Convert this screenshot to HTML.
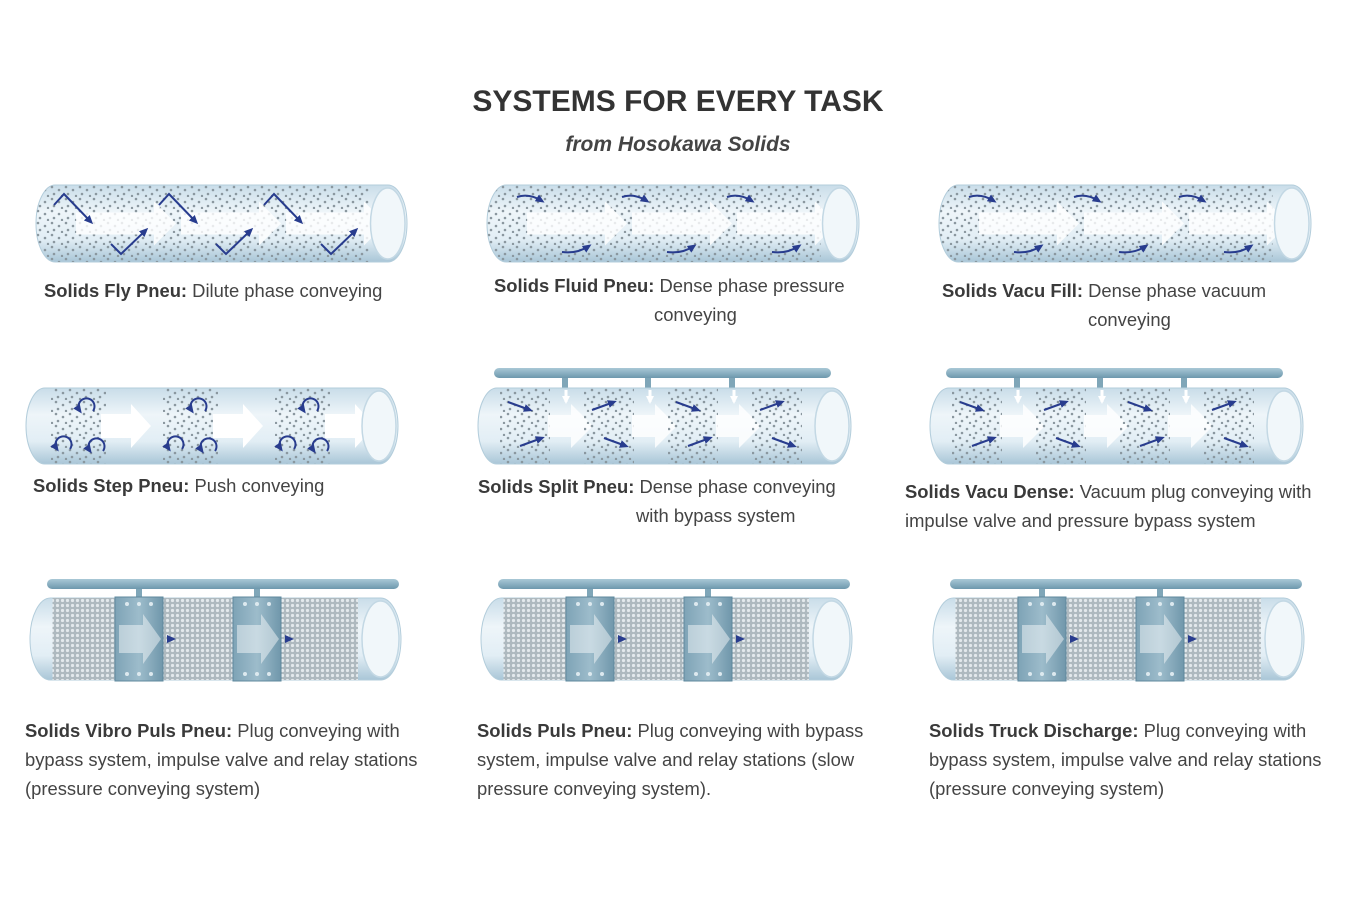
<!DOCTYPE html>
<html><head><meta charset="utf-8">
<style>
body{margin:0;width:1350px;height:900px;background:#fff;position:relative;overflow:hidden;font-family:"Liberation Sans",sans-serif;color:#444}
.t{position:absolute;font-size:18.4px;line-height:29px;white-space:nowrap}
.t b{color:#3a3a3a}
#title{position:absolute;left:0;width:1356px;text-align:center;top:85px;font-size:30px;font-weight:bold;color:#333}
#sub{position:absolute;left:0;width:1356px;text-align:center;top:133px;font-size:21px;font-weight:bold;font-style:italic;color:#444}
svg{position:absolute;left:0;top:0}
</style></head><body>
<svg id="s" width="1350" height="900" viewBox="0 0 1350 900">
<defs>
<linearGradient id="g" x1="0" y1="0" x2="0" y2="1">
<stop offset="0" stop-color="#c9dde9"/><stop offset="0.35" stop-color="#eef5f9"/><stop offset="0.7" stop-color="#e2eef5"/><stop offset="1" stop-color="#a9c6d7"/></linearGradient>
<linearGradient id="bar" x1="0" y1="0" x2="0" y2="1"><stop offset="0" stop-color="#a9c8d6"/><stop offset="1" stop-color="#6d98ad"/></linearGradient>
<linearGradient id="clamp" x1="0" y1="0" x2="1" y2="0"><stop offset="0" stop-color="#7ea3b6"/><stop offset="0.5" stop-color="#9dbccb"/><stop offset="1" stop-color="#7097ab"/></linearGradient>
<pattern id="dots" width="14" height="12" patternUnits="userSpaceOnUse"><circle cx="2" cy="2" r="1.3" fill="#8a979f"/><circle cx="9" cy="5" r="1.3" fill="#8a979f"/><circle cx="4" cy="9" r="1.3" fill="#8a979f"/><circle cx="12" cy="11" r="1.2" fill="#8a979f"/></pattern>
<pattern id="mesh" width="5" height="5" patternUnits="userSpaceOnUse"><rect width="5" height="5" fill="#aeb9bf"/><circle cx="2.5" cy="2.5" r="1.6" fill="#e3e9ec"/></pattern>
<marker id="ah" markerUnits="userSpaceOnUse" markerWidth="9" markerHeight="8" refX="6" refY="4" orient="auto"><path d="M0,0 L9,4 L0,8z" fill="#283c8e"/></marker>
<marker id="wh" markerUnits="userSpaceOnUse" markerWidth="10" markerHeight="8" refX="6" refY="4" orient="auto"><path d="M0,0 L8,4 L0,8z" fill="#fff"/></marker>
</defs>
</svg>
<div id="title">SYSTEMS FOR EVERY TASK</div>
<div id="sub">from Hosokawa Solids</div>

<div class="t" style="left:44px;top:276px"><b>Solids Fly Pneu:</b> Dilute phase conveying</div>
<div class="t" style="left:494px;top:271px"><b>Solids Fluid Pneu:</b> Dense phase pressure<br><span style="padding-left:160px">conveying</span></div>
<div class="t" style="left:942px;top:276px"><b>Solids Vacu Fill:</b> Dense phase vacuum<br><span style="padding-left:146px">conveying</span></div>
<div class="t" style="left:33px;top:471px"><b>Solids Step Pneu:</b> Push conveying</div>
<div class="t" style="left:478px;top:472px"><b>Solids Split Pneu:</b> Dense phase conveying<br><span style="padding-left:158px">with bypass system</span></div>
<div class="t" style="left:905px;top:477px"><b>Solids Vacu Dense:</b> Vacuum plug conveying with<br>impulse valve and pressure bypass system</div>
<div class="t" style="left:25px;top:716px"><b>Solids Vibro Puls Pneu:</b> Plug conveying with<br>bypass system, impulse valve and relay stations<br>(pressure conveying system)</div>
<div class="t" style="left:477px;top:716px"><b>Solids Puls Pneu:</b> Plug conveying with bypass<br>system, impulse valve and relay stations (slow<br>pressure conveying system).</div>
<div class="t" style="left:929px;top:716px"><b>Solids Truck Discharge:</b> Plug conveying with<br>bypass system, impulse valve and relay stations<br>(pressure conveying system)</div>

<script>
var s=document.getElementById('s'),NS='http://www.w3.org/2000/svg';
function el(t,a,p){var e=document.createElementNS(NS,t);for(var k in a)e.setAttribute(k,a[k]);(p||s).appendChild(e);return e;}
function pipe(x,y,w,h,type){
 var g=el('g',{transform:'translate('+x+','+y+')'});
 var r=h*0.25,hh=h/2;
 var d='M'+r+',0 L'+(w-r)+',0 A'+r+','+hh+' 0 0 1 '+(w-r)+','+h+' L'+r+','+h+' A'+r+','+hh+' 0 0 1 '+r+',0Z';
 el('path',{d:d,fill:'url(#g)',stroke:'#b3cddb','stroke-width':1},g);
 var cp=el('clipPath',{id:'c'+x+'_'+y},g);el('path',{d:d},cp);
 var inner=el('g',{'clip-path':'url(#c'+x+'_'+y+')'},g);
 function arrowW(ax,len){
  el('path',{d:'M'+ax+','+(hh-11)+' L'+(ax+len-22)+','+(hh-11)+' L'+(ax+len-22)+','+(hh-22)+' L'+(ax+len)+','+hh+' L'+(ax+len-22)+','+(hh+22)+' L'+(ax+len-22)+','+(hh+11)+' L'+ax+','+(hh+11)+'Z',fill:'#fff',opacity:0.8},inner);}
 function ba(x1,y1,x2,y2){el('path',{d:'M'+x1+','+y1+' L'+x2+','+y2,stroke:'#283c8e','stroke-width':2,fill:'none','marker-end':'url(#ah)'},inner);}
 if(type=='fly'||type=='fluid'){
  el('rect',{x:0,y:0,width:w-r*2,height:h,fill:'url(#dots)'},inner);
  for(var i=0;i<3;i++)arrowW(40+i*105,100);
  for(var i=0;i<3;i++){var ax=30+i*105;
   if(type=='fly'){el('path',{d:'M'+(ax-12)+',20 L'+(ax-2)+',9 L'+(ax+25)+',37',stroke:'#283c8e','stroke-width':2,fill:'none','marker-end':'url(#ah)'},inner);
    el('path',{d:'M'+(ax+45)+','+(h-18)+' L'+(ax+55)+','+(h-8)+' L'+(ax+80)+','+(h-32),stroke:'#283c8e','stroke-width':2,fill:'none','marker-end':'url(#ah)'},inner);}
   else{el('path',{d:'M'+(ax)+',12 Q'+(ax+12)+',8 '+(ax+25)+',16',stroke:'#283c8e','stroke-width':2,fill:'none','marker-end':'url(#ah)'},inner);
    el('path',{d:'M'+(ax+45)+','+(h-10)+' Q'+(ax+60)+','+(h-8)+' '+(ax+72)+','+(h-16),stroke:'#283c8e','stroke-width':2,fill:'none','marker-end':'url(#ah)'},inner);}
  }
 }
 if(type=='step'){
  for(var i=0;i<3;i++){var cx=25+i*112;el('rect',{x:cx,y:0,width:55,height:h,fill:'url(#dots)'},inner);
   el('path',{d:'M'+(cx+50)+','+(hh-12)+' L'+(cx+80)+','+(hh-12)+' L'+(cx+80)+','+(hh-22)+' L'+(cx+100)+','+hh+' L'+(cx+80)+','+(hh+22)+' L'+(cx+80)+','+(hh+12)+' L'+(cx+50)+','+(hh+12)+'Z',fill:'#fff'},inner);
   [[cx+35,18],[cx+12,h-20],[cx+45,h-18]].forEach(function(p){el('path',{d:'M'+(p[0]+7)+','+(p[1]+5)+' A8,8 0 1 0 '+(p[0]-6)+','+(p[1]+5),stroke:'#283c8e','stroke-width':2,fill:'none','marker-end':'url(#ah)'},inner);});}
 }
 if(type=='split'){
  for(var i=0;i<4;i++){var cx=22+i*84;el('rect',{x:cx,y:0,width:50,height:h,fill:'url(#dots)'},inner);
   if(i<3)arrowW(cx+48,45);
   if(i%2==0){ba(cx+8,14,cx+30,22);ba(cx+20,h-18,cx+42,h-26);}else{ba(cx+8,22,cx+30,14);ba(cx+20,h-26,cx+42,h-18);}}
  for(var i=0;i<3;i++){var bx=88+i*84;el('path',{d:'M'+bx+',2 L'+bx+',14',stroke:'#fff','stroke-width':3,'marker-end':'url(#wh)'},inner);}
 }
 if(type=='plug'){
  el('rect',{x:r+2,y:0,width:w-r*3-4,height:h,fill:'url(#mesh)'},inner);
 }
 el('ellipse',{cx:w-r,cy:hh,rx:r-2,ry:hh-3,fill:'#f1f7fa',stroke:'#c3d8e4','stroke-width':1.5},g);
 return g;
}
function topbar(x,y,w,drops,dropY){
 for(var i=0;i<drops.length;i++)el('rect',{x:drops[i]-3,y:y+8,width:6,height:dropY-y-6,fill:'#7fa6b8'});
 el('rect',{x:x,y:y,width:w,height:10,rx:5,fill:'url(#bar)'});
}
pipe(36,185,371,77,'fly');
pipe(487,185,372,77,'fluid');
pipe(939,185,372,77,'fluid');
pipe(26,388,372,76,'step');
topbar(494,368,337,[565,648,732],390);pipe(478,388,373,76,'split');
topbar(946,368,337,[1017,1100,1184],390);pipe(930,388,373,76,'split');
function plugRow(x){
 topbar(x+17,579,352,[x+109,x+227],600);
 pipe(x,598,371,82,'plug');
 [85,203].forEach(function(cx){
  el('rect',{x:x+cx,y:597,width:48,height:84,fill:'url(#clamp)',stroke:'#5f889d'});
  el('path',{d:'M'+(x+cx+4)+',625 L'+(x+cx+28)+',625 L'+(x+cx+28)+',614 L'+(x+cx+46)+',639 L'+(x+cx+28)+',664 L'+(x+cx+28)+',653 L'+(x+cx+4)+',653Z',fill:'#fff',opacity:0.45});
  for(var k=0;k<3;k++){el('circle',{cx:x+cx+12+k*12,cy:604,r:2,fill:'#dde9ef'});el('circle',{cx:x+cx+12+k*12,cy:674,r:2,fill:'#dde9ef'});}
  el('path',{d:'M'+(x+cx+52)+',639 L'+(x+cx+58)+',639',stroke:'#283c8e','stroke-width':2.5,'marker-end':'url(#ah)'});
 });
}
plugRow(30);plugRow(481);plugRow(933);
</script>
</body></html>
